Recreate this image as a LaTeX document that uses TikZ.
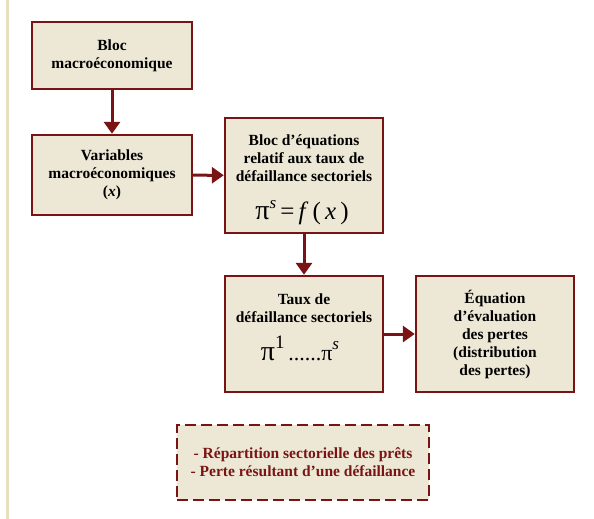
\documentclass[tikz,border=0pt]{standalone}
\usepackage{fontspec}
\setmainfont{Liberation Serif}
\usetikzlibrary{arrows.meta}
\definecolor{boxfill}{HTML}{EDE8D6}
\definecolor{boxline}{HTML}{7A1414}
\definecolor{sideline}{HTML}{E8DFC0}
\begin{document}
\begin{tikzpicture}[x=1pt,y=-1pt,
  blk/.style={draw=boxline,fill=boxfill,line width=2.4pt,align=center,inner sep=0pt,
    font=\fontsize{15.5}{18}\selectfont\bfseries},
  txt/.style={align=center,inner sep=0pt,anchor=north,font=\fontsize{15.5}{18}\selectfont\bfseries},
  frm/.style={inner sep=0pt,anchor=base},
  conn/.style={draw=boxline,line width=3pt,-{Triangle[length=12pt,width=16pt]}}]
\useasboundingbox (0,0) rectangle (594,519);
\fill[sideline] (6,0) rectangle (8.5,519);
\node[blk,minimum width=160pt,minimum height=67pt] (b1) at (112,55.5) {Bloc\\macroéconomique};
\node[blk,minimum width=160pt,minimum height=80pt] (b2) at (112,175) {Variables\\macroéconomiques\\(\textit{x})};
\node[blk,minimum width=158pt,minimum height=115pt] (b3) at (304,175.5) {};
\node[txt] (b3t) at (304,131) {\rule{0pt}{14pt}Bloc d’équations\\relatif aux taux de\\défaillance sectoriels};
\node[frm] (b3f) at (302,219) {\fontsize{28}{26}\selectfont π\raisebox{11pt}{\fontsize{17}{17}\selectfont\itshape s}\fontsize{25}{26}\selectfont\,=\,\textit{f}\,(\,\textit{x}\,)};
\node[blk,minimum width=158pt,minimum height=116pt] (b4) at (304,334) {};
\node[txt] (b4t) at (304,290) {\rule{0pt}{14pt}Taux de\\défaillance sectoriels};
\node[frm] (b4f) at (300,360) {\fontsize{28}{26}\selectfont π\raisebox{12pt}{\fontsize{19}{19}\selectfont 1}\fontsize{22}{26}\selectfont\,......π\raisebox{11pt}{\fontsize{17}{17}\selectfont\itshape s}};
\node[blk,minimum width=158pt,minimum height=116pt] (b5) at (495,334) {Équation\\d’évaluation\\des pertes\\(distribution\\des pertes)};
\node[draw=boxline,fill=boxfill,line width=2pt,dash pattern=on 11pt off 5pt,
  minimum width=252pt,minimum height=75pt,align=center,inner sep=0pt,text=boxline,
  font=\fontsize{15.5}{18}\selectfont\bfseries] (n) at (303,462.5)
  {- Répartition sectorielle des prêts\\- Perte résultant d’une défaillance};
\draw[conn] (b1) -- (b2);
\draw[conn] (b2) -- (b3);
\draw[conn] (b3) -- (b4);
\draw[conn] (b4) -- (b5);
\end{tikzpicture}
\end{document}
